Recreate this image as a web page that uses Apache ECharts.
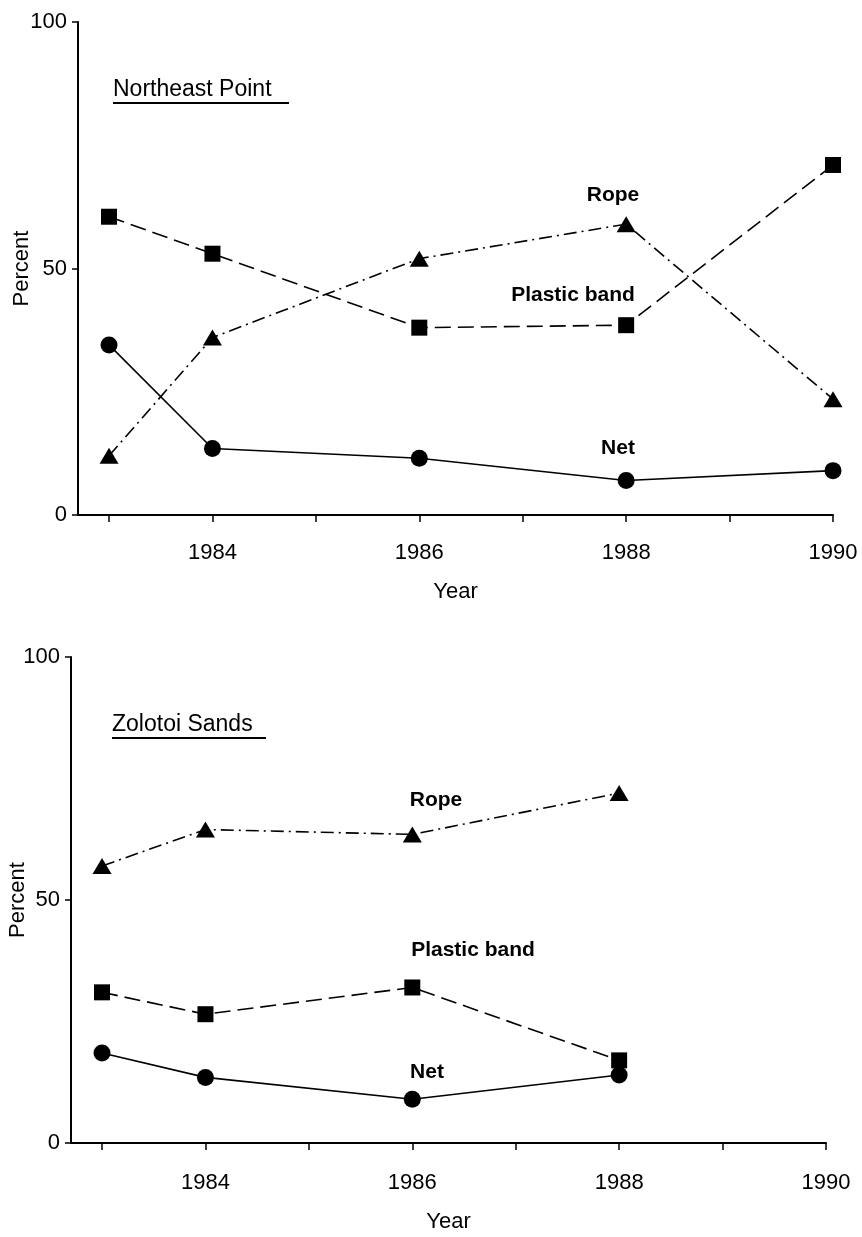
<!DOCTYPE html>
<html>
<head>
<meta charset="utf-8">
<script src="https://cdn.jsdelivr.net/npm/echarts@6/dist/echarts.min.js"></script>
<style>
html,body{margin:0;padding:0;background:#fff;}
#c{width:862px;height:1237px;}
</style>
</head>
<body>
<div id="c"></div>
<script>
// ---- data ----
const yearsTop = [1983, 1984, 1986, 1988, 1990];
const topPlastic = [60.5, 53, 38, 38.5, 71];
const topRope = [12, 36, 52, 59, 23.5];
const topNet = [34.5, 13.5, 11.5, 7, 9];

const yearsBottom = [1983, 1984, 1986, 1988];
const botRope = [57, 64.5, 63.5, 72];
const botPlastic = [31, 26.5, 32, 17];
const botNet = [18.5, 13.5, 9, 14];

const xTickValues = [1983, 1984, 1985, 1986, 1987, 1988, 1989, 1990];
const xLabelValues = [1984, 1986, 1988, 1990];
const yTickValues = [0, 50, 100];

const panelTitles = ['Northeast Point', 'Zolotoi Sands'];
const seriesNames = ['Rope', 'Plastic band', 'Net'];

// ---- chart ----
const FONT = 'Liberation Sans, Arial, Helvetica, sans-serif';
const chart = echarts.init(document.getElementById('c'), null, {renderer: 'canvas'});

function pairs(xs, ys) { return xs.map((x, i) => [x, ys[i]]); }

function xAxisDef(gridIndex, nameGap, margin) {
  return {
    type: 'value', gridIndex, min: 1982.7, max: 1990,
    name: 'Year', nameLocation: 'middle', nameGap,
    nameTextStyle: {fontFamily: FONT, fontSize: 22, color: '#000'},
    axisLine: {show: true, onZero: false, lineStyle: {color: '#000', width: 2}},
    axisTick: {show: true, customValues: xTickValues, length: 7, inside: false, lineStyle: {color: '#000', width: 1.5}},
    axisLabel: {customValues: xLabelValues, margin, fontFamily: FONT, fontSize: 22, color: '#000',
      formatter: v => String(Math.round(v))},
    splitLine: {show: false}
  };
}
function yAxisDef(gridIndex, nameGap) {
  return {
    type: 'value', gridIndex, min: 0, max: 100, interval: 50,
    name: 'Percent', nameLocation: 'middle', nameGap, nameMoveOverlap: false,
    nameTextStyle: {fontFamily: FONT, fontSize: 22, color: '#000'},
    axisLine: {show: true, lineStyle: {color: '#000', width: 2}},
    axisTick: {show: true, length: 6, lineStyle: {color: '#000', width: 1.5}},
    axisLabel: {margin: 11, fontFamily: FONT, fontSize: 22, color: '#000',
      formatter: v => String(v)},
    splitLine: {show: false}
  };
}

const lineW = 1.6;
const styles = {
  'Rope': {symbol: 'triangle', symbolSize: [19, 16], type: [13, 5, 2, 5]},
  'Plastic band': {symbol: 'rect', symbolSize: 16, type: [16, 7]},
  'Net': {symbol: 'circle', symbolSize: 17, type: 'solid'}
};
function ser(name, idx, xs, ys) {
  const s = styles[name];
  return {
    name, type: 'line', xAxisIndex: idx, yAxisIndex: idx,
    data: pairs(xs, ys),
    symbol: s.symbol, symbolSize: s.symbolSize, showSymbol: true,
    itemStyle: {color: '#000'},
    lineStyle: {color: '#000', width: lineW, type: s.type},
    animation: false, z: 3
  };
}

function txt(text, x, y, size, bold, align) {
  return {
    type: 'text', x, y,
    style: {text, fontFamily: FONT, fontSize: size, fontWeight: bold ? 'bold' : 'normal',
      fill: '#000', align: align || 'center', verticalAlign: 'middle'}
  };
}

const option = {
  backgroundColor: '#fff',
  animation: false,
  grid: [
    {left: 78, top: 22, width: 755, height: 493, containLabel: false, outerBoundsMode: 'none'},
    {left: 71, top: 657, width: 755, height: 486, containLabel: false, outerBoundsMode: 'none'}
  ],
  xAxis: [xAxisDef(0, 66, 27), xAxisDef(1, 68, 29)],
  yAxis: [yAxisDef(0, 45), yAxisDef(1, 42)],
  series: [
    ser('Plastic band', 0, yearsTop, topPlastic),
    ser('Rope', 0, yearsTop, topRope),
    ser('Net', 0, yearsTop, topNet),
    ser('Rope', 1, yearsBottom, botRope),
    ser('Plastic band', 1, yearsBottom, botPlastic),
    ser('Net', 1, yearsBottom, botNet)
  ],
  graphic: [
    txt(panelTitles[0], 113, 90, 23, false, 'left'),
    {type: 'line', shape: {x1: 113, y1: 103, x2: 289, y2: 103}, style: {stroke: '#000', lineWidth: 2}},
    txt(seriesNames[0], 613, 195, 21, true),
    txt(seriesNames[1], 573, 295, 21, true),
    txt(seriesNames[2], 618, 448, 21, true),
    txt(panelTitles[1], 112, 725, 23, false, 'left'),
    {type: 'line', shape: {x1: 112, y1: 738, x2: 266, y2: 738}, style: {stroke: '#000', lineWidth: 2}},
    txt(seriesNames[0], 436, 800, 21, true),
    txt(seriesNames[1], 473, 950, 21, true),
    txt(seriesNames[2], 427, 1072, 21, true)
  ]
};
chart.setOption(option);
</script>
</body>
</html>
